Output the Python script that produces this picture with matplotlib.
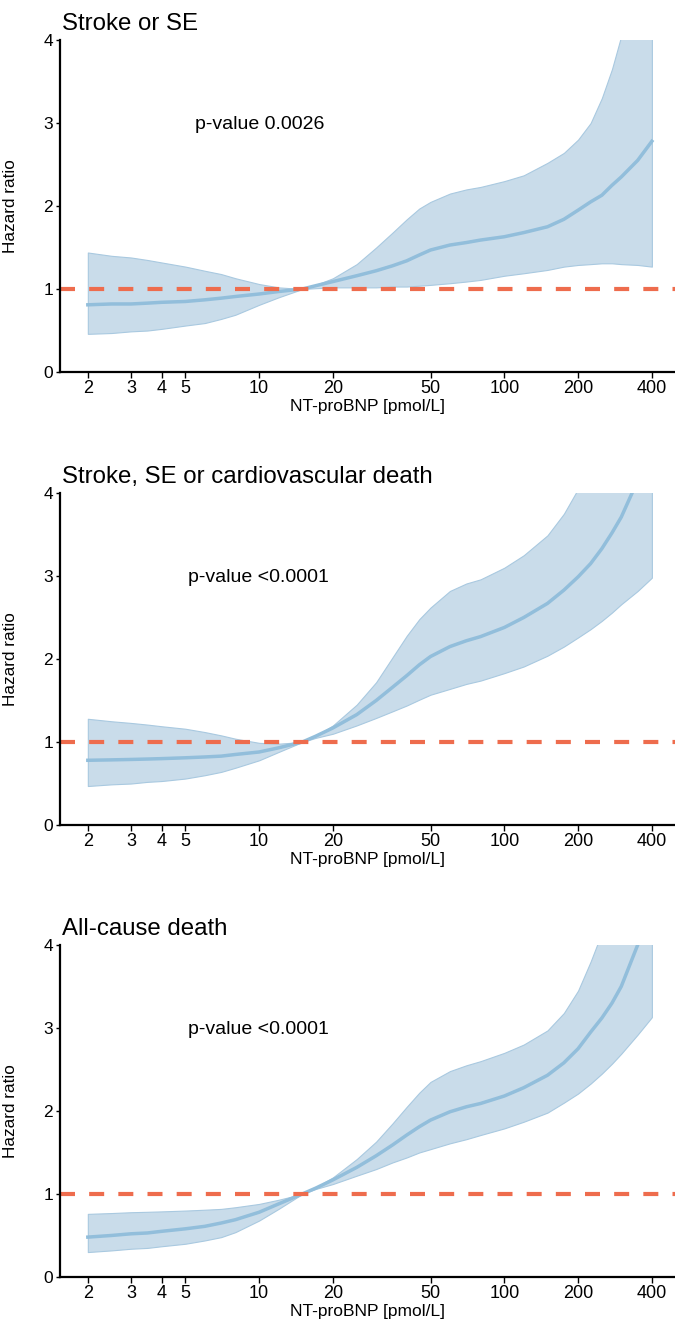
import numpy as np
import matplotlib.pyplot as plt

plt.rcParams['font.family'] = ['Liberation Sans', 'DejaVu Sans']

ntprobnp = [2, 2.5, 3, 3.5, 4, 5, 6, 7, 8, 10, 12, 15, 17, 20, 25, 30, 35, 40, 45, 50,
            60, 70, 80, 100, 120, 150, 175, 200, 225, 250, 275, 300, 350, 400]

titles = ['Stroke or SE', 'Stroke, SE or cardiovascular death', 'All-cause death']
pvalues = ['p-value 0.0026', 'p-value <0.0001', 'p-value <0.0001']
pvalue_x = [5.47, 5.14, 5.14]

# Stroke or SE
hr1 = [0.81, 0.82, 0.82, 0.83, 0.84, 0.85, 0.87, 0.89, 0.91, 0.94, 0.97, 1.0, 1.04, 1.09, 1.16,
       1.22, 1.28, 1.34, 1.41, 1.47, 1.53, 1.56, 1.59, 1.63, 1.68, 1.75, 1.84, 1.95, 2.05, 2.13,
       2.25, 2.35, 2.55, 2.78]
hi1 = [1.44, 1.40, 1.38, 1.35, 1.32, 1.27, 1.22, 1.18, 1.13, 1.06, 1.02, 1.0, 1.05, 1.13, 1.30,
       1.50, 1.68, 1.84, 1.97, 2.05, 2.15, 2.20, 2.23, 2.30, 2.37, 2.52, 2.64, 2.80, 3.0, 3.3,
       3.65, 4.05, 4.9, 5.8]
lo1 = [0.46, 0.47, 0.49, 0.50, 0.52, 0.56, 0.59, 0.64, 0.69, 0.81, 0.90, 1.0, 1.01, 1.02, 1.02,
       1.02, 1.03, 1.03, 1.04, 1.05, 1.07, 1.09, 1.11, 1.16, 1.19, 1.23, 1.27, 1.29, 1.30, 1.31,
       1.31, 1.30, 1.29, 1.27]

# Stroke, SE or CV death
hr2 = [0.78, 0.785, 0.79, 0.795, 0.80, 0.81, 0.82, 0.83, 0.85, 0.88, 0.93, 1.0, 1.07, 1.17, 1.33,
       1.50, 1.66, 1.80, 1.93, 2.03, 2.15, 2.22, 2.27, 2.38, 2.50, 2.67, 2.83, 2.99, 3.15, 3.33,
       3.52, 3.71, 4.15, 4.7]
hi2 = [1.28, 1.25, 1.23, 1.21, 1.19, 1.16, 1.12, 1.08, 1.04, 0.99, 0.98, 1.0, 1.07, 1.20, 1.45,
       1.72, 2.02, 2.28, 2.48, 2.62, 2.82, 2.91, 2.96, 3.10, 3.25, 3.49, 3.75, 4.05, 4.35, 4.65,
       4.95, 5.3, 5.9, 6.5]
lo2 = [0.47, 0.49, 0.50, 0.52, 0.53, 0.56, 0.60, 0.64, 0.69, 0.78, 0.88, 1.0, 1.05, 1.10, 1.20,
       1.29, 1.37, 1.44, 1.51, 1.57, 1.64, 1.70, 1.74, 1.83, 1.91, 2.04, 2.15, 2.26, 2.36, 2.46,
       2.56, 2.66, 2.82, 2.98]

# All-cause death
hr3 = [0.48, 0.50, 0.52, 0.53, 0.55, 0.58, 0.61, 0.65, 0.69, 0.78, 0.88, 1.0, 1.07, 1.17, 1.32,
       1.46, 1.59, 1.71, 1.81, 1.89, 1.99, 2.05, 2.09, 2.18, 2.28, 2.43, 2.58, 2.75, 2.95, 3.12,
       3.30, 3.50, 4.0, 4.6]
hi3 = [0.76, 0.77, 0.78, 0.785, 0.79, 0.80, 0.81, 0.82, 0.84, 0.88, 0.93, 1.0, 1.08, 1.20, 1.42,
       1.63, 1.85, 2.05, 2.22, 2.35, 2.48, 2.55, 2.60, 2.70, 2.80, 2.97, 3.18, 3.45, 3.8, 4.15,
       4.5, 4.85, 5.5, 6.3]
lo3 = [0.30, 0.32, 0.34, 0.35, 0.37, 0.40, 0.44, 0.48, 0.54, 0.68, 0.82, 1.0, 1.06, 1.12, 1.22,
       1.30, 1.38, 1.44, 1.50, 1.54, 1.61, 1.66, 1.71, 1.79, 1.87, 1.98, 2.10, 2.21, 2.33, 2.45,
       2.57, 2.69, 2.92, 3.13]

xticks = [2, 3, 4, 5, 10, 20, 50, 100, 200, 400]

panels = [(hr1, lo1, hi1), (hr2, lo2, hi2), (hr3, lo3, hi3)]
bottoms = [0.7188, 0.3764, 0.0348]

fig = plt.figure(figsize=(6.75, 13.23), dpi=100)

for i, (hr, lo, hi) in enumerate(panels):
    ax = fig.add_axes([60 / 675, bottoms[i], 615 / 675, 332 / 1323])
    ax.fill_between(ntprobnp, lo, hi, color='#c9dcea', linewidth=0.8, edgecolor='#a9c9e0')
    ax.plot(ntprobnp, hr, color='#92bedb', linewidth=2.5, solid_joinstyle='round')
    ax.axhline(1, color='#ee6c4d', linewidth=3, dashes=(3.6, 3.4))

    ax.set_xscale('log')
    ax.set_xlim(1.54, 497)
    ax.set_ylim(0, 4)
    ax.set_xticks(xticks)
    ax.set_xticklabels([str(t) for t in xticks])
    ax.minorticks_off()
    ax.set_yticks([0, 1, 2, 3, 4])

    ax.spines['top'].set_visible(False)
    ax.spines['right'].set_visible(False)
    ax.spines['left'].set_linewidth(1.6)
    ax.spines['bottom'].set_linewidth(1.6)
    ax.tick_params(axis='x', labelsize=13, length=4, width=1, pad=2)
    ax.tick_params(axis='y', labelsize=12.5, length=3, width=1, pad=2)

    ax.set_xlabel('NT-proBNP [pmol/L]', fontsize=12.5, labelpad=1)
    ax.set_ylabel('Hazard ratio', fontsize=12.3)
    ax.yaxis.set_label_coords(-42 / 615, 0.5)

    ax.text(0.003, 1 + 16 / 332, titles[i], transform=ax.transAxes,
            fontsize=17.3, ha='left', va='center')
    ax.text(pvalue_x[i], 2.98, pvalues[i], fontsize=14, ha='left', va='center')

plt.savefig('out.png', dpi=100)
